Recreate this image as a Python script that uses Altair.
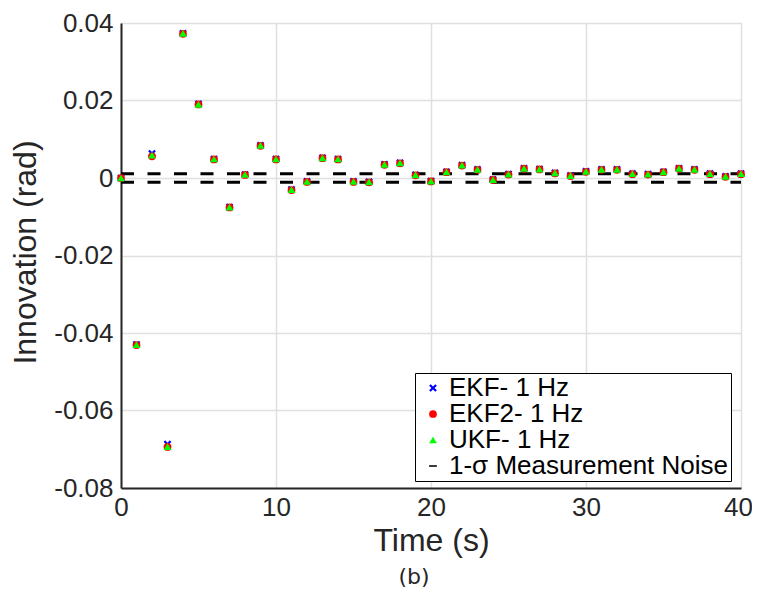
import altair as alt
import pandas as pd

# ---- data ----
time_s = list(range(41))

ekf = [0.0000, -0.0430, 0.0063, -0.0687, 0.0373, 0.0191, 0.0049, -0.0075, 0.0009, 0.0084,
       0.0049, -0.0030, -0.0009, 0.0052, 0.0049, -0.0009, -0.0010, 0.0035, 0.0039, 0.0008,
       -0.0008, 0.0016, 0.0033, 0.0022, -0.0004, 0.0010, 0.0025, 0.0023, 0.0013, 0.0006,
       0.0017, 0.0022, 0.0022, 0.0011, 0.0010, 0.0016, 0.0025, 0.0022, 0.0011, 0.0004, 0.0011]
ekf2 = [0.0000, -0.0431, 0.0056, -0.0694, 0.0372, 0.0190, 0.0048, -0.0076, 0.0008, 0.0083,
        0.0048, -0.0031, -0.0010, 0.0051, 0.0048, -0.0010, -0.0011, 0.0034, 0.0038, 0.0007,
        -0.0009, 0.0015, 0.0032, 0.0021, -0.0005, 0.0009, 0.0024, 0.0022, 0.0012, 0.0005,
        0.0016, 0.0021, 0.0021, 0.0010, 0.0009, 0.0015, 0.0024, 0.0021, 0.0010, 0.0003, 0.0010]
ukf = [0.0000, -0.0430, 0.0059, -0.0693, 0.0373, 0.0190, 0.0049, -0.0075, 0.0009, 0.0084,
       0.0049, -0.0030, -0.0009, 0.0052, 0.0049, -0.0009, -0.0010, 0.0035, 0.0039, 0.0008,
       -0.0008, 0.0016, 0.0033, 0.0022, -0.0004, 0.0010, 0.0025, 0.0023, 0.0013, 0.0006,
       0.0017, 0.0022, 0.0022, 0.0011, 0.0010, 0.0016, 0.0025, 0.0022, 0.0011, 0.0004, 0.0011]

noise_bounds = [0.0011, -0.0011]
noise_x = [0, 40]

series_names = ["EKF- 1 Hz", "EKF2- 1 Hz", "UKF- 1 Hz", "1-σ Measurement Noise"]
series_colors = ["#0000ff", "#ff0000", "#00ff00", "#000000"]
x_path = "M-1,-0.6L-0.6,-1L0,-0.4L0.6,-1L1,-0.6L0.4,0L1,0.6L0.6,1L0,0.4L-0.6,1L-1,0.6L-0.4,0Z"
dash_path = "M-1,-0.2H1V0.2H-1Z"
series_shapes = [x_path, "circle", "triangle-up", dash_path]
series_sizes = [60, 60, 190, 220]

x_ticks = [0, 10, 20, 30, 40]
y_ticks = [-0.08, -0.06, -0.04, -0.02, 0, 0.02, 0.04]

# ---- tables ----
rows = []
for name, vals in zip(series_names[:3], [ekf, ekf2, ukf]):
    for t, v in zip(time_s, vals):
        rows.append({"t": t, "value": v, "series": name})
points_df = pd.DataFrame(rows)

noise_df = pd.DataFrame({"y": noise_bounds, "x": [noise_x[0]] * 2, "x2": [noise_x[1]] * 2})

FONT = "Liberation Sans"
TXT = "#262626"

x_scale = alt.Scale(domain=[0, 40], nice=False, zero=False)
y_scale = alt.Scale(domain=[-0.08, 0.04], nice=False, zero=False)

x_axis = alt.Axis(
    values=x_ticks, title="Time (s)", format="d",
    ticks=False, tickSize=0, labelPadding=6, labelFlush=False,
    labelOffset={"condition": {"test": "datum.value == 40", "value": -3}, "value": 0},
    labelFontSize=26, labelFont=FONT, labelColor=TXT,
    titleFontSize=32, titleFont=FONT, titleColor=TXT, titleFontWeight="normal",
    titleBaseline="alphabetic", titleY=62,
    grid=True, gridColor="#e0e0e0", gridWidth=1.5,
    domainColor=TXT, domainWidth=2,
)
y_axis = alt.Axis(
    values=y_ticks, title="Innovation (rad)",
    labelExpr="abs(datum.value) < 1e-9 ? '0' : (datum.value < 0 ? '-' + format(-datum.value, '.2f') : format(datum.value, '.2f'))",
    ticks=False, tickSize=0, labelPadding=8, labelFlush=False,
    labelFontSize=26, labelFont=FONT, labelColor=TXT,
    titleFontSize=32, titleFont=FONT, titleColor=TXT, titleFontWeight="normal",
    titleBaseline="alphabetic", titleX=-86, titleY=229, titleAngle=270,
    grid=True, gridColor="#e0e0e0", gridWidth=1.5,
    domainColor=TXT, domainWidth=2,
)

legend = alt.Legend(
    title=None, orient="none", legendX=294, legendY=350,
    labelFontSize=26, labelFont=FONT, labelColor="#000000", labelLimit=500,
    strokeColor="#000000", fillColor="#ffffff", padding=2,
    symbolOffset=3, labelOffset=3, rowPadding=0,
    symbolStrokeWidth=0, symbolOpacity=1,
)

noise = alt.Chart(noise_df).mark_rule(color="#000000", strokeWidth=3, strokeDash=[13, 13.5]).encode(
    x=alt.X("x:Q", scale=x_scale, axis=x_axis),
    x2="x2:Q",
    y=alt.Y("y:Q", scale=y_scale, axis=y_axis),
)

pts = alt.Chart(points_df).mark_point(filled=True, opacity=1).encode(
    x=alt.X("t:Q", scale=x_scale, axis=x_axis),
    y=alt.Y("value:Q", scale=y_scale, axis=y_axis),
    color=alt.Color("series:N", scale=alt.Scale(domain=series_names, range=series_colors), legend=legend),
    shape=alt.Shape("series:N", scale=alt.Scale(domain=series_names, range=series_shapes), legend=legend),
    size=alt.Size("series:N", scale=alt.Scale(domain=series_names, range=series_sizes), legend=legend),
)

chart = alt.layer(noise, pts).properties(
    width=620, height=465,
    autosize=alt.AutoSizeParams(type="none"),
    padding={"left": 113, "top": 15, "right": 11, "bottom": 104},
    title=alt.TitleParams(text="(b)", orient="bottom", anchor="middle", offset=11, dx=-17,
                          fontSize=22, font="DejaVu Sans", fontWeight="normal", color=TXT),
).configure_view(strokeWidth=0).configure(background="#ffffff")

chart.save("out.html", embed_options={"renderer": "svg", "actions": False})
